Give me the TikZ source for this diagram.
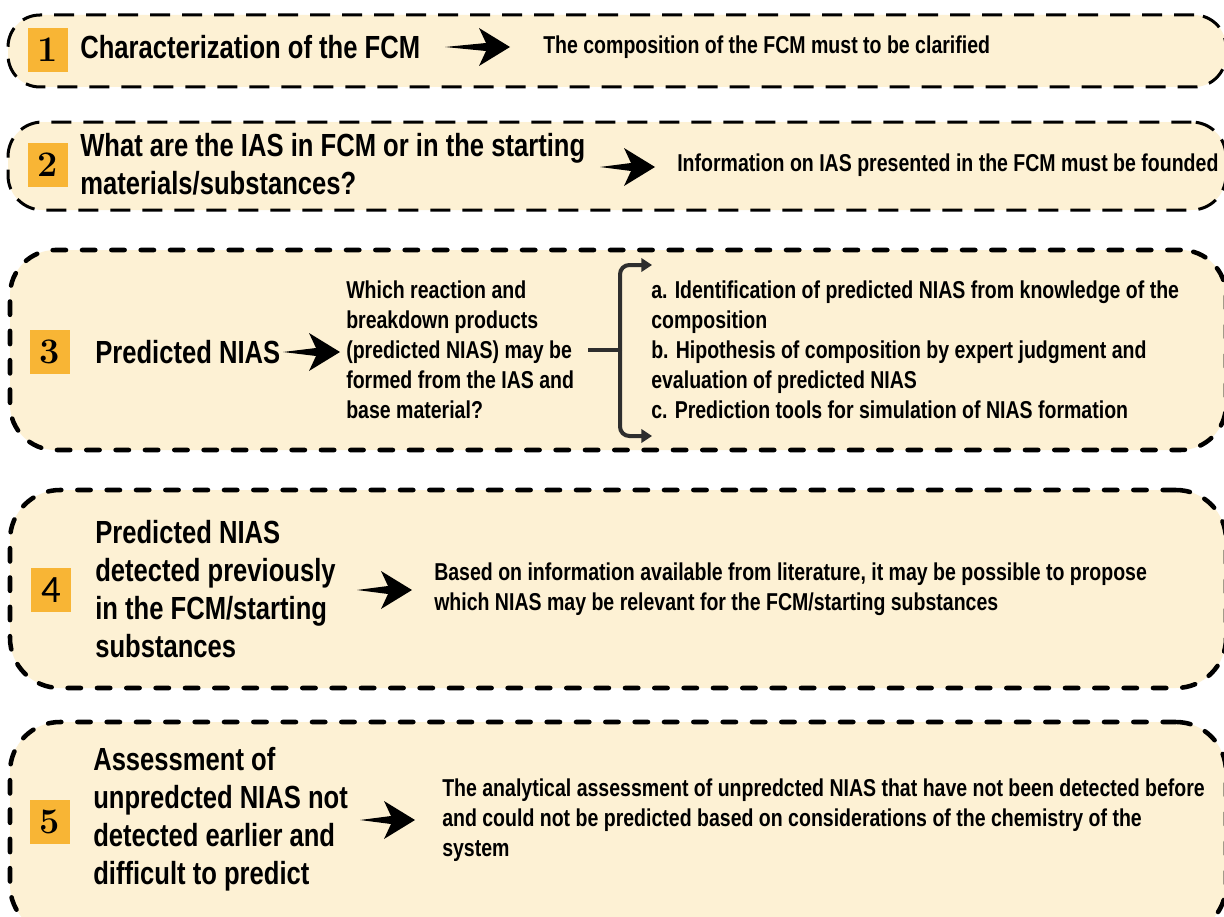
\documentclass[tikz,border=0pt]{standalone}
\usepackage{fontspec}
\setmainfont{Liberation Sans}[FakeStretch=0.8]
\newfontfamily\numfont{Latin Modern Roman}
\newfontfamily\numfontb{Carlito}
\usetikzlibrary{calc,arrows.meta}
\definecolor{cream}{HTML}{FDF1D4}
\definecolor{numorange}{HTML}{F8B535}
\definecolor{brkgray}{HTML}{2E2E2E}
\tikzset{
  panelA/.style={draw=black, fill=cream, line width=2.25pt, dash pattern=on 15pt off 9pt, inner sep=0pt, minimum width=913.5pt},
  panelB/.style={draw=black, fill=cream, line width=3.4pt, line cap=round, dash pattern=on 10pt off 12pt, inner sep=0pt, minimum width=912pt},
  numbox/.style={fill=numorange, minimum width=30pt, minimum height=33pt, inner sep=0pt},
  bigtxt/.style={anchor=west, inner sep=0pt, align=left, font=\bfseries\fontsize{24pt}{28.5pt}\selectfont},
  smalltxt/.style={anchor=west, inner sep=0pt, align=left, font=\bfseries\fontsize{18.3pt}{22.5pt}\selectfont},
  brk/.style={draw=brkgray, line width=3pt},
}
\newcommand\fatarrow[2]{\fill[black] (#1) -- ($(#2)+(-24,-4)$) -- ($(#2)+(-31,-19)$) -- (#2) -- ($(#2)+(-31,19)$) -- ($(#2)+(-24,4)$) -- cycle;}
\begin{document}
\begin{tikzpicture}[x=0.75pt,y=-0.75pt]
\useasboundingbox (0,0) rectangle (1224,917);
\clip (0,0) rectangle (1224,917);
\fill[white] (0,0) rectangle (1224,917);

% panels
\node[panelA, minimum height=54pt, rounded corners=24pt] (b1) at (617,51) {};
\node[panelA, minimum height=66pt, rounded corners=26pt] (b2) at (617,166) {};
\node[panelB, minimum height=150pt, rounded corners=34pt] (b3) at (618,350) {};
\node[panelB, minimum height=148.5pt, rounded corners=37.5pt] (b4) at (618,589) {};
\node[panelB, minimum height=159.75pt, rounded corners=37.5pt] (b5) at (618,828.5) {};

% number squares
\node[numbox] (n1) at (48,50) {\numfont\bfseries\fontsize{27pt}{27pt}\selectfont 1};
\node[numbox] (n2) at (48,165) {\numfont\bfseries\fontsize{27pt}{27pt}\selectfont 2};
\node[numbox] (n3) at (50,352) {\numfont\bfseries\fontsize{27pt}{27pt}\selectfont 3};
\node[numbox] (n4) at (51,590) {\numfontb\fontsize{29pt}{29pt}\selectfont 4};
\node[numbox] (n5) at (50,822) {\numfont\bfseries\fontsize{27pt}{27pt}\selectfont 5};

% box 1
\node[bigtxt] (t1) at (80,47) {Characterization of the FCM};
\node[smalltxt] (r1) at (543,47) {The composition of the FCM must to be clarified};
\coordinate (a1s) at (445,47);
\coordinate (a1e) at (510,47);
\fatarrow{a1s}{a1e}

% box 2
\node[bigtxt] (t2) at (80,164) {What are the IAS in FCM or in the starting\\materials/substances?};
\node[smalltxt] (r2) at (677,165) {Information on IAS presented in the FCM must be founded};
\coordinate (a2s) at (600,167);
\coordinate (a2e) at (655,167);
\fatarrow{a2s}{a2e}

% box 3
\node[bigtxt] (t3) at (95,352) {Predicted NIAS};
\node[smalltxt] (m3) at (346,350) {Which reaction and\\breakdown products\\(predicted NIAS) may be\\formed from the IAS and\\base material?};
\node[smalltxt] (r3) at (651,350) {a. Identification of predicted NIAS from knowledge of the\\composition\\b. Hipothesis of composition by expert judgment and\\evaluation of predicted NIAS\\c. Prediction tools for simulation of NIAS formation};
\coordinate (a3s) at (283,352);
\coordinate (a3e) at (340,352);
\fatarrow{a3s}{a3e}
\coordinate (bm) at (588,350);
\coordinate (bj) at (620,350);
\coordinate (bt) at (652,265);
\coordinate (bb) at (652,436);
\draw[brk] (bm) -- (bj);
\draw[brk, rounded corners=7pt, -{Triangle[length=8pt,width=10pt]}] (bj) |- (bt);
\draw[brk, rounded corners=7pt, -{Triangle[length=8pt,width=10pt]}] (bj) |- (bb);

% box 4
\node[bigtxt] (t4) at (95,589.5) {Predicted NIAS\\detected previously\\in the FCM/starting\\substances};
\node[smalltxt] (r4) at (434,589) {Based on information available from literature, it may be possible to propose\\which NIAS may be relevant for the FCM/starting substances};
\coordinate (a4s) at (357,590);
\coordinate (a4e) at (412,590);
\fatarrow{a4s}{a4e}

% box 5
\node[bigtxt] (t5) at (93,819) {Assessment of\\unpredcted NIAS not\\detected earlier and\\difficult to predict};
\node[smalltxt] (r5) at (442,820) {The analytical assessment of unpredcted NIAS that have not been detected before\\and could not be predicted based on considerations of the chemistry of the\\system};
\coordinate (a5s) at (360,820);
\coordinate (a5e) at (415,820);
\fatarrow{a5s}{a5e}
\end{tikzpicture}
\end{document}
